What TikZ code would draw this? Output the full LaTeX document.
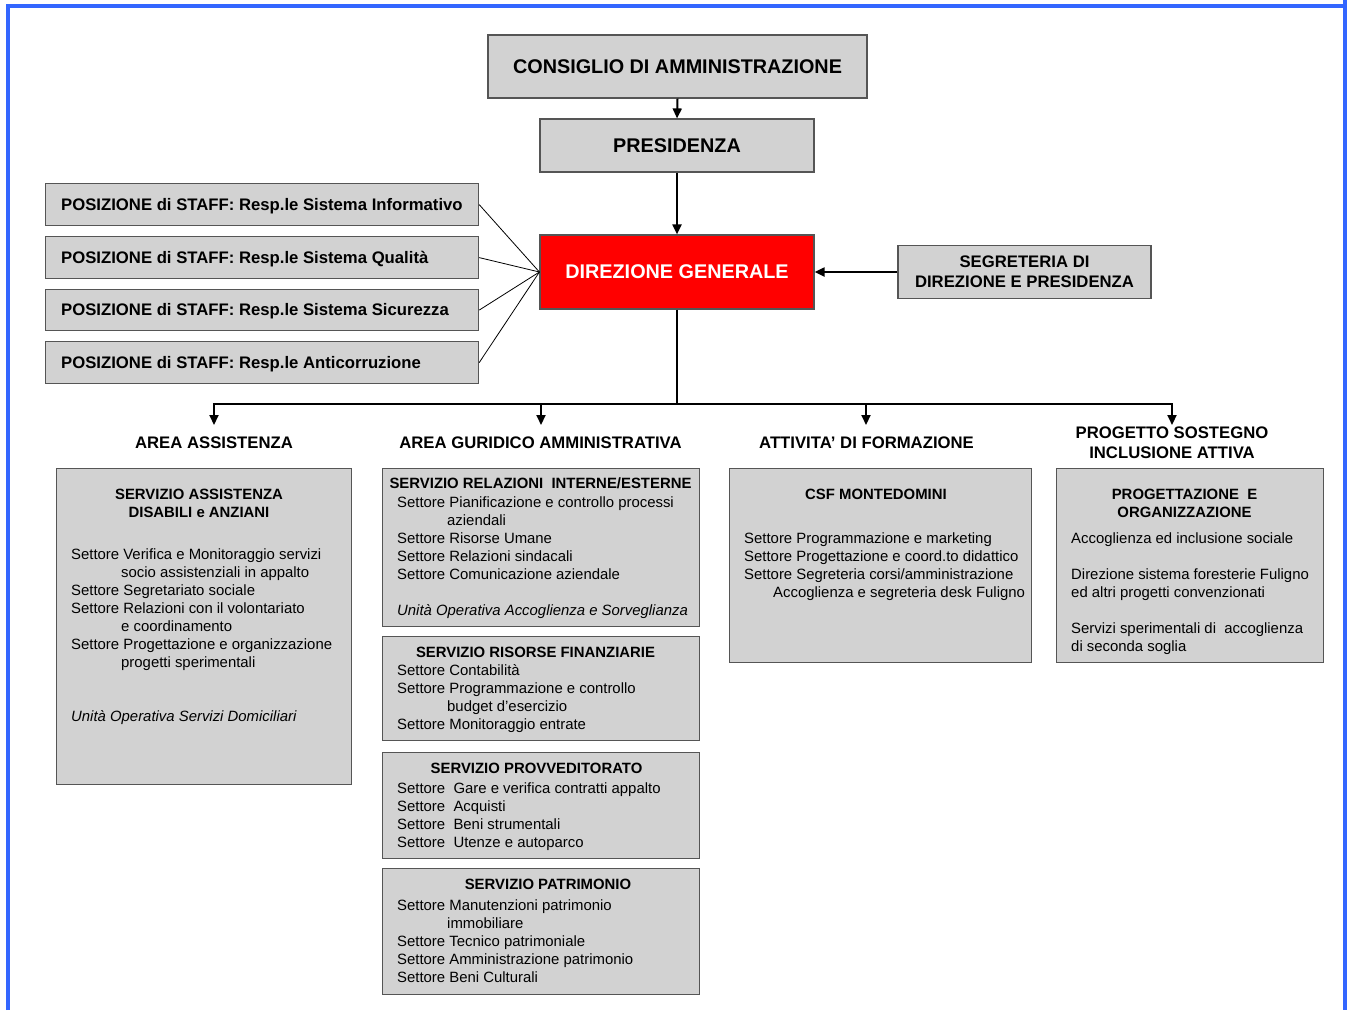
\documentclass[tikz,border=0pt]{standalone}
\usepackage{fontspec}
\setmainfont{Liberation Sans}
\usetikzlibrary{arrows.meta}
\definecolor{framblue}{RGB}{51,102,255}
\definecolor{boxfill}{RGB}{210,210,210}
\definecolor{boxline}{RGB}{85,85,85}
\definecolor{dgred}{RGB}{255,0,0}
\newcommand\tblock[1]{\begin{tabular}[t]{@{}l@{}}#1\end{tabular}}
\newcommand\cblock[1]{\begin{tabular}[t]{@{}c@{}}#1\end{tabular}}
\tikzset{
  box/.style={draw=boxline, fill=boxfill, line width=1.2pt, inner sep=0pt},
  bigbox/.style={box, font=\bfseries\fontsize{19.8}{24}\selectfont},
  stafftxt/.style={font=\bfseries\fontsize{16.7}{20}\selectfont, anchor=base west, inner sep=0pt},
  arealbl/.style={font=\bfseries\fontsize{16.7}{20}\selectfont, anchor=base, inner sep=0pt},
  ttl/.style={font=\bfseries\fontsize{14.9}{18}\selectfont, anchor=base, inner sep=0pt},
  body/.style={font=\fontsize{14.9}{18}\selectfont, anchor=base west, inner sep=0pt},
  conn/.style={line width=2pt, -{Triangle[length=10pt,width=9pt]}},
  trunk/.style={line width=2.4pt},
  thinline/.style={line width=0.8pt},
  frame/.style={draw=framblue, line width=4.5pt}
}
\begin{document}
\begin{tikzpicture}[x=1pt,y=-1pt]
\useasboundingbox (0,0) rectangle (1348,1010);
\fill[white] (0,0) rectangle (1348,1010);

% frame
\draw[frame] (8,1010) -- (8,6) -- (1345,6);
\draw[frame] (1345,0) -- (1345,1010);

% top boxes
\node[bigbox, minimum width=379pt, minimum height=63pt] (cda) at (677.5,66.5) {CONSIGLIO DI AMMINISTRAZIONE};
\node[bigbox, minimum width=274pt, minimum height=53pt] (pres) at (677,145.5) {PRESIDENZA};
\node[bigbox, fill=dgred, text=white, minimum width=274pt, minimum height=74pt] (dg) at (677,272) {DIREZIONE GENERALE};
\node[box, minimum width=253pt, minimum height=53pt, align=center, font=\bfseries\fontsize{16.7}{20}\selectfont] (seg) at (1024.5,272) {SEGRETERIA DI\\DIREZIONE E PRESIDENZA};

% staff boxes
\node[box, anchor=north west, minimum width=433pt, minimum height=42pt] (st1) at (45,183) {};
\node[box, anchor=north west, minimum width=433pt, minimum height=42pt] (st2) at (45,236) {};
\node[box, anchor=north west, minimum width=433pt, minimum height=41pt] (st3) at (45,289) {};
\node[box, anchor=north west, minimum width=433pt, minimum height=42pt] (st4) at (45,341) {};
\node[stafftxt] (st1t) at (61,210) {POSIZIONE di STAFF: Resp.le Sistema Informativo};
\node[stafftxt] (st2t) at (61,263) {POSIZIONE di STAFF: Resp.le Sistema Qualità};
\node[stafftxt] (st3t) at (61,315.5) {POSIZIONE di STAFF: Resp.le Sistema Sicurezza};
\node[stafftxt] (st4t) at (61,368) {POSIZIONE di STAFF: Resp.le Anticorruzione};

% connectors top
\draw[conn] (cda.south) -- (pres.north);
\draw[conn] (pres.south) -- (dg.north);
\draw[conn] (seg.west) -- (dg.east);
\foreach \s in {st1,st2,st3,st4} \draw[thinline] (\s.east) -- (dg.west);

% trunk
\coordinate (j) at (677,404);
\coordinate (bA) at (214,404);
\coordinate (bB) at (541,404);
\coordinate (bC) at (866,404);
\coordinate (bD) at (1172,404);
\coordinate (tA) at (214,425);
\coordinate (tB) at (541,425);
\coordinate (tC) at (866,425);
\coordinate (tD) at (1172,425);
\draw[trunk] (dg.south) -- (j);
\draw[trunk] ([xshift=-1.2pt]bA) -- ([xshift=1.2pt]bD);
\draw[conn] (bA) -- (tA);
\draw[conn] (bB) -- (tB);
\draw[conn] (bC) -- (tC);
\draw[conn] (bD) -- (tD);

% area labels
\node[arealbl] (lA) at (214,448) {AREA ASSISTENZA};
\node[arealbl] (lB) at (540.5,448) {AREA GURIDICO AMMINISTRATIVA};
\node[arealbl] (lC) at (866.5,448) {ATTIVITA’ DI FORMAZIONE};
\node[arealbl] (lD) at (1172,438) {\cblock{PROGETTO SOSTEGNO\\INCLUSIONE ATTIVA}};

% content boxes
\node[box, anchor=north west, minimum width=295pt, minimum height=316pt] (as) at (56,468) {};
\node[box, anchor=north west, minimum width=317pt, minimum height=158pt] (rel) at (382,468) {};
\node[box, anchor=north west, minimum width=317pt, minimum height=104pt] (ris) at (382,636) {};
\node[box, anchor=north west, minimum width=317pt, minimum height=106pt] (prov) at (382,752) {};
\node[box, anchor=north west, minimum width=317pt, minimum height=126pt] (pat) at (382,868) {};
\node[box, anchor=north west, minimum width=302pt, minimum height=194pt] (csf) at (729,468) {};
\node[box, anchor=north west, minimum width=267pt, minimum height=194pt] (prog) at (1056,468) {};

% assistenza
\node[ttl] (asT) at (199,499.3) {\cblock{SERVIZIO ASSISTENZA\\DISABILI e ANZIANI}};
\node[body] (asB) at (71,559.3) {\tblock{Settore Verifica e Monitoraggio servizi\\
\hspace{50pt}socio assistenziali in appalto\\
Settore Segretariato sociale\\
Settore Relazioni con il volontariato\\
\hspace{50pt}e coordinamento\\
Settore Progettazione e organizzazione\\
\hspace{50pt}progetti sperimentali}};
\node[body] (asU) at (71,721.3) {\itshape Unità Operativa Servizi Domiciliari};

% relazioni
\node[ttl] (relT) at (540.5,488.3) {SERVIZIO RELAZIONI\ \ INTERNE/ESTERNE};
\node[body] (relB) at (397,507.3) {\tblock{Settore Pianificazione e controllo processi\\
\hspace{50pt}aziendali\\
Settore Risorse Umane\\
Settore Relazioni sindacali\\
Settore Comunicazione aziendale}};
\node[body] (relU) at (397,615.3) {\itshape Unità Operativa Accoglienza e Sorveglianza};

% risorse finanziarie
\node[ttl] (risT) at (535.5,657.3) {SERVIZIO RISORSE FINANZIARIE};
\node[body] (risB) at (397,675.3) {\tblock{Settore Contabilità\\
Settore Programmazione e controllo\\
\hspace{50pt}budget d’esercizio\\
Settore Monitoraggio entrate}};

% provveditorato
\node[ttl] (provT) at (536.5,773.3) {SERVIZIO PROVVEDITORATO};
\node[body] (provB) at (397,793.3) {\tblock{Settore\ \ Gare e verifica contratti appalto\\
Settore\ \ Acquisti\\
Settore\ \ Beni strumentali\\
Settore\ \ Utenze e autoparco}};

% patrimonio
\node[ttl] (patT) at (548,889.3) {SERVIZIO PATRIMONIO};
\node[body] (patB) at (397,910.3) {\tblock{Settore Manutenzioni patrimonio\\
\hspace{50pt}immobiliare\\
Settore Tecnico patrimoniale\\
Settore Amministrazione patrimonio\\
Settore Beni Culturali}};

% csf
\node[ttl] (csfT) at (876,499.3) {CSF MONTEDOMINI};
\node[body] (csfB) at (744,543.3) {\tblock{Settore Programmazione e marketing\\
Settore Progettazione e coord.to didattico\\
Settore Segreteria corsi/amministrazione\\
\hspace{29pt}Accoglienza e segreteria desk Fuligno}};

% progettazione
\node[ttl] (progT) at (1184.5,499.3) {\cblock{PROGETTAZIONE\ \ E\\ORGANIZZAZIONE}};
\node[body] (progB) at (1071,543.3) {\tblock{Accoglienza ed inclusione sociale\\[18pt]
Direzione sistema foresterie Fuligno\\
ed altri progetti convenzionati\\[18pt]
Servizi sperimentali di\ \ accoglienza\\
di seconda soglia}};

\end{tikzpicture}
\end{document}
